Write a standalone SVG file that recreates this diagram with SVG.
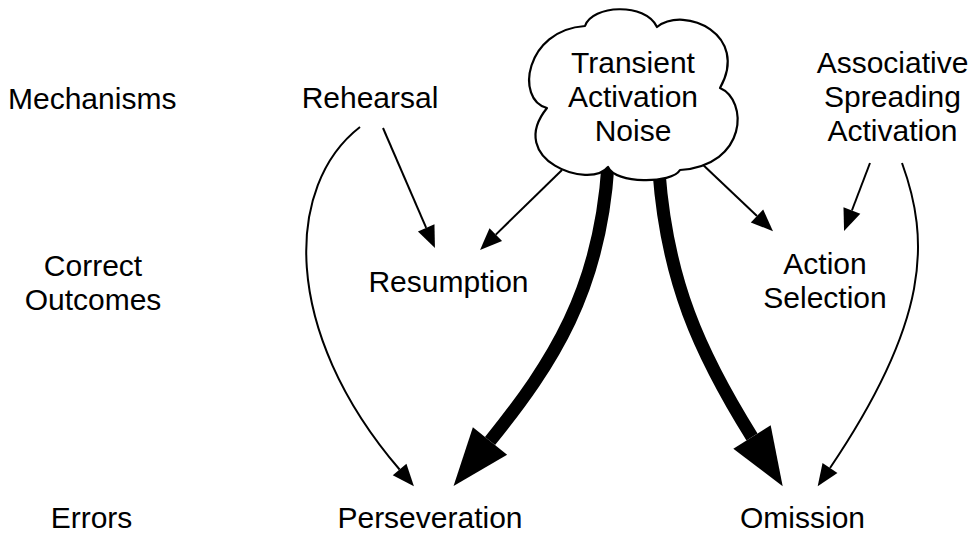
<svg xmlns="http://www.w3.org/2000/svg" width="975" height="534" viewBox="0 0 975 534">
<style>
text{font-family:"Liberation Sans",Arial,Helvetica,sans-serif;font-size:30px;fill:#000;text-anchor:middle}
.thin{fill:none;stroke:#000;stroke-width:2}
.thick{fill:none;stroke:#000;stroke-width:13}
.cloud{fill:#fff;stroke:#000;stroke-width:2.2;stroke-linejoin:round}
</style>
<defs>
<marker id="ah" markerUnits="userSpaceOnUse" markerWidth="24" markerHeight="20" refX="0" refY="10" orient="auto" viewBox="0 0 24 20" overflow="visible">
<path d="M0,1 L22,10 L0,19 z" fill="#000"/>
</marker>
<marker id="ahBig" markerUnits="userSpaceOnUse" markerWidth="60" markerHeight="46" refX="0" refY="23" orient="auto" viewBox="0 0 60 46" overflow="visible">
<path d="M0,1 L58,23 L0,45 z" fill="#000"/>
</marker>
</defs>
<g id="connectors">
<path class="thin" d="M383,128 L426.2,227.8" marker-end="url(#ah)"/>
<path class="thin" d="M562,170 L495.8,234.6" marker-end="url(#ah)"/>
<path class="thin" d="M700,162 L757,216" marker-end="url(#ah)"/>
<path class="thin" d="M870,163 L851.9,210.5" marker-end="url(#ah)"/>
<path class="thin" d="M360,127 C285,185 280,330 399.6,469.5" marker-end="url(#ah)"/>
<path class="thin" d="M902,163 C930,240 930,320 830,468" marker-end="url(#ah)"/>
<path class="thick" d="M608,165 C600,290 553,363 490,441" marker-end="url(#ahBig)"/>
<path class="thick" d="M659,172 C667,280 699,352 752,437" marker-end="url(#ahBig)"/>
</g>
<g id="label-mechanisms"><text x="8" y="109" style="text-anchor:start">Mechanisms</text></g>
<g id="label-correct-outcomes"><text x="93" y="276">Correct</text><text x="93" y="310">Outcomes</text></g>
<g id="label-errors"><text x="91.5" y="528">Errors</text></g>
<g id="rehearsal"><text x="370" y="108">Rehearsal</text></g>
<g id="transient-activation-noise">
<path class="cloud" d="M585,26 C592,5 645,2 657,27 C685,5 750,35 720,88 C748,100 748,165 680,170 C672,184 615,184 608,167 C590,190 505,160 547,108 C515,100 525,30 585,26 Z"/>
<text x="633" y="73">Transient</text>
<text x="633" y="107">Activation</text>
<text x="633" y="141">Noise</text>
</g>
<g id="associative-spreading-activation">
<text x="892.5" y="73">Associative</text>
<text x="892.5" y="107">Spreading</text>
<text x="892.5" y="141">Activation</text>
</g>
<g id="resumption"><text x="448.5" y="292">Resumption</text></g>
<g id="action-selection"><text x="825" y="274">Action</text><text x="825" y="308">Selection</text></g>
<g id="perseveration"><text x="430" y="528">Perseveration</text></g>
<g id="omission"><text x="802.5" y="528">Omission</text></g>
</svg>
